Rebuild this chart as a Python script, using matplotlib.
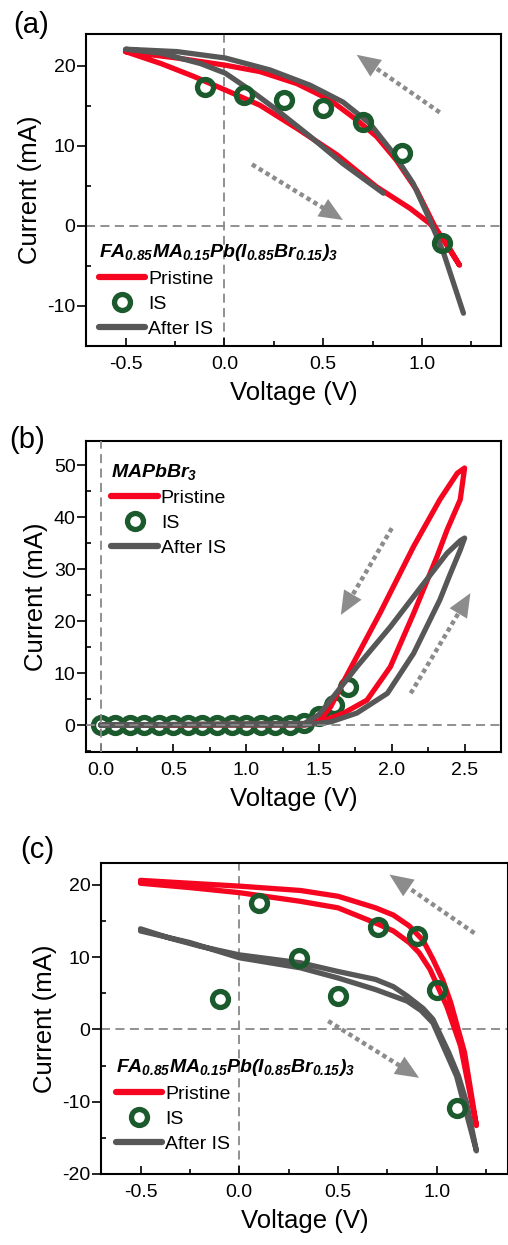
import numpy as np
import matplotlib.pyplot as plt
from matplotlib.lines import Line2D
from matplotlib.ticker import MultipleLocator

plt.rcParams['font.family'] = ['Liberation Sans', 'DejaVu Sans']
plt.rcParams['axes.unicode_minus'] = False
plt.rcParams['mathtext.fontset'] = 'custom'
plt.rcParams['mathtext.rm'] = 'Liberation Sans:bold:italic'
plt.rcParams['mathtext.it'] = 'Liberation Sans:bold:italic'
plt.rcParams['mathtext.bf'] = 'Liberation Sans:bold:italic'

RED = '#f5051f'
GRAY = '#575757'
GREEN = '#1a5a2d'
ARW = '#8c8c8c'

# (a) FA0.85MA0.15Pb(I0.85Br0.15)3, первая ячейка
a_pri_v = [-0.5, -0.32, -0.155, 0.005, 0.18, 0.367, 0.57, 0.77, 0.94, 1.04, 1.125, 1.19,
           1.066, 0.973, 0.87, 0.77, 0.67, 0.535, 0.367, 0.18, 0.005, -0.24, -0.5]
a_pri_i = [21.8, 20.3, 18.7, 17.0, 15.1, 12.2, 8.9, 4.9, 2.2, 0.3, -2.2, -4.9,
           -0.1, 4.5, 8.25, 11.2, 13.25, 15.75, 17.8, 19.3, 20.1, 21.0, 21.8]
a_aft_v = [1.21, 1.11, 1.04, 0.956, 0.855, 0.737, 0.6, 0.434, 0.232, 0.005, -0.24, -0.5,
           -0.32, -0.12, 0.005, 0.13, 0.266, 0.434, 0.6, 0.805]
a_aft_i = [-10.9, -3.4, 0.75, 5.3, 9.1, 12.8, 15.5, 17.6, 19.5, 21.0, 21.8, 22.1,
           21.6, 20.3, 19.1, 17.0, 14.5, 11.2, 7.8, 4.1]
a_is_v = [-0.1, 0.1, 0.3, 0.5, 0.7, 0.9, 1.1]
a_is_i = [17.4, 16.4, 15.75, 14.8, 13.0, 9.1, -2.1]

# (b) MAPbBr3
b_pri_v = [0.0, 1.4, 1.5, 1.67, 1.83, 1.99, 2.15, 2.31, 2.38, 2.47, 2.5,
           2.45, 2.33, 2.15, 1.92, 1.69, 1.58, 1.5, 1.4, 0.0]
b_pri_i = [0.0, 0.0, 0.5, 2.3, 4.8, 11.2, 21.5, 32.4, 37.6, 43.4, 49.5,
           48.5, 43.4, 34.4, 21.6, 9.5, 3.5, 0.8, 0.2, 0.0]
b_aft_v = [0.0, 1.4, 1.58, 1.76, 1.97, 2.15, 2.33, 2.4, 2.47, 2.5,
           2.47, 2.38, 2.22, 1.99, 1.76, 1.6, 1.5, 1.4, 0.0]
b_aft_i = [0.0, 0.0, 0.6, 2.3, 6.1, 13.8, 24.1, 29.0, 33.7, 36.0,
           35.5, 33.1, 27.3, 18.9, 11.2, 5.5, 2.0, 0.3, 0.0]
b_is_v = [0.0, 0.1, 0.2, 0.3, 0.4, 0.5, 0.6, 0.7, 0.8, 0.9, 1.0, 1.1, 1.2, 1.3, 1.4, 1.5, 1.6, 1.7]
b_is_i = [0, 0, 0, 0, 0, 0, 0, 0, 0, 0, 0, 0, 0, 0, 0.3, 1.7, 3.8, 7.4]

# (c) FA0.85MA0.15Pb(I0.85Br0.15)3, вторая ячейка
c_pri_v = [-0.5, -0.25, 0.0, 0.31, 0.5, 0.69, 0.78, 0.86, 0.93, 0.98, 1.03, 1.07, 1.14, 1.2,
           1.12, 1.05, 0.965, 0.91, 0.86, 0.78, 0.69, 0.5, 0.31, 0.0, -0.25, -0.5]
c_pri_i = [20.6, 20.2, 19.8, 19.2, 18.4, 16.8, 15.8, 14.3, 12.3, 9.7, 6.8, 3.7, -3.2, -13.3,
           -2.3, 3.2, 8.3, 10.6, 12.0, 13.6, 14.7, 16.8, 17.7, 18.9, 19.6, 20.2]
c_aft_v = [-0.5, -0.35, -0.2, 0.0, 0.31, 0.5, 0.69, 0.78, 0.85, 0.93, 0.98, 1.06, 1.11, 1.15, 1.2,
           1.1, 0.98, 0.92, 0.85, 0.69, 0.5, 0.31, 0.0, -0.25, -0.5]
c_aft_i = [13.9, 12.6, 11.5, 10.3, 9.2, 8.0, 6.9, 5.9, 4.6, 2.9, 1.4, -3.2, -6.5, -10.1, -16.8,
           -6.5, 0.9, 2.6, 3.9, 5.5, 7.1, 8.5, 9.9, 12.0, 13.6]
c_is_v = [-0.1, 0.1, 0.3, 0.5, 0.7, 0.9, 1.0, 1.1]
c_is_i = [4.2, 17.5, 9.9, 4.6, 14.2, 12.9, 5.5, -10.9]

FA_TITLE = r'$FA_{0.85}MA_{0.15}Pb(I_{0.85}Br_{0.15})_3$'


def style(ax, xlim, ylim, xstep, ystep):
    ax.set_xlim(xlim)
    ax.set_ylim(ylim)
    ax.xaxis.set_major_locator(MultipleLocator(xstep))
    ax.xaxis.set_minor_locator(MultipleLocator(xstep / 2))
    ax.yaxis.set_major_locator(MultipleLocator(ystep))
    ax.yaxis.set_minor_locator(MultipleLocator(ystep / 2))
    ax.tick_params(axis='x', which='major', direction='in', length=6, width=1.2, labelsize=14, pad=7)
    ax.tick_params(axis='x', which='minor', direction='in', length=3.5, width=1.2)
    ax.tick_params(axis='y', which='major', direction='out', length=6.5, width=1.2, labelsize=14, pad=1)
    ax.tick_params(axis='y', which='minor', direction='in', length=3.5, width=1.2)
    for s in ax.spines.values():
        s.set_linewidth(1.5)
    ax.set_xlabel('Voltage (V)', fontsize=18.5, labelpad=6)
    ax.set_ylabel('Current (mA)', fontsize=18.5, labelpad=4)


def arrow(ax, start, tip, head=17):
    p0 = ax.transData.transform(start)
    p1 = ax.transData.transform(tip)
    d = p1 - p0
    u = d / np.hypot(*d)
    axial = head * 0.92
    base = ax.transData.inverted().transform(p1 - u * axial * 100 / 72 * 0.95)
    ax.plot([start[0], base[0]], [start[1], base[1]], ls=(0, (1, 0.8)), lw=3.2,
            color=ARW, dash_capstyle='butt', zorder=2)
    ax.annotate('', xy=tip, xytext=(-u[0] * axial, -u[1] * axial), textcoords='offset points',
                arrowprops=dict(arrowstyle='-|>,head_length=1,head_width=0.43', mutation_scale=head,
                                color=ARW, lw=0, shrinkA=0, shrinkB=0), zorder=2)


def legend(ax, title, loc, anchor):
    h = [Line2D([], [], color=RED, lw=4.5, solid_capstyle='round'),
         Line2D([], [], ls='none', marker='o', ms=11.5, mfc='none', mec=GREEN, mew=3.8),
         Line2D([], [], color=GRAY, lw=4.5, solid_capstyle='round')]
    lg = ax.legend(h, ['Pristine', 'IS', 'After IS'], title=title, loc=loc, bbox_to_anchor=anchor,
                   frameon=False, fontsize=14, title_fontsize=14, alignment='left',
                   handlelength=2.4, handletextpad=0.15, labelspacing=0.38,
                   borderpad=0.2, borderaxespad=0.2)
    lg.set_zorder(6)


fig = plt.figure(figsize=(5.08, 12.45), dpi=100)
W, H = 508, 1245

# (a)
ax = fig.add_axes([86 / W, 1 - 346 / H, 415 / W, 312 / H])
style(ax, (-0.7, 1.4), (-15, 24), 0.5, 10)
ax.axhline(0, color='#888888', ls=(0, (5, 3)), lw=1.3, zorder=1)
ax.axvline(0, color='#888888', ls=(0, (5, 3)), lw=1.3, zorder=1)
ax.plot(a_pri_v, a_pri_i, color=RED, lw=3.8, solid_joinstyle='round', solid_capstyle='round', zorder=3)
ax.plot(a_aft_v, a_aft_i, color=GRAY, lw=3.8, solid_joinstyle='round', solid_capstyle='round', zorder=3)
ax.plot(a_is_v, a_is_i, ls='none', marker='o', ms=11.5, mfc='none', mec=GREEN, mew=3.8, zorder=4)
arrow(ax, (1.09, 14.2), (0.67, 21.4))
arrow(ax, (0.14, 7.7), (0.6, 0.75))
legend(ax, FA_TITLE, 'lower left', (0.012, 0.0))

# (b)
ax = fig.add_axes([86 / W, 1 - 752 / H, 415 / W, 311 / H])
style(ax, (-0.1, 2.75), (-5.2, 54.7), 0.5, 10)
ax.plot(b_is_v, b_is_i, ls='none', marker='o', ms=11.5, mfc='none', mec=GREEN, mew=3.8, zorder=2)
ax.plot(b_pri_v, b_pri_i, color=RED, lw=3.8, solid_joinstyle='round', solid_capstyle='round', zorder=3)
ax.plot(b_aft_v, b_aft_i, color=GRAY, lw=3.8, solid_joinstyle='round', solid_capstyle='round', zorder=3)
ax.axhline(0, color='#888888', ls=(0, (5, 3)), lw=1.3, zorder=5)
ax.axvline(0, color='#888888', ls=(0, (5, 3)), lw=1.3, zorder=5)
arrow(ax, (2.0, 37.9), (1.65, 21.2))
arrow(ax, (2.13, 6.1), (2.54, 25.4))
legend(ax, r'$MAPbBr_3$', 'upper left', (0.042, 0.958))

# (c)
ax = fig.add_axes([101 / W, 1 - 1174 / H, 407 / W, 311 / H])
style(ax, (-0.7, 1.36), (-20, 23), 0.5, 10)
ax.axhline(0, color='#888888', ls=(0, (5, 3)), lw=1.3, zorder=1)
ax.axvline(0, color='#888888', ls=(0, (5, 3)), lw=1.3, zorder=1)
ax.plot(c_pri_v, c_pri_i, color=RED, lw=3.8, solid_joinstyle='round', solid_capstyle='round', zorder=3)
ax.plot(c_aft_v, c_aft_i, color=GRAY, lw=3.8, solid_joinstyle='round', solid_capstyle='round', zorder=3)
ax.plot(c_is_v, c_is_i, ls='none', marker='o', ms=11.5, mfc='none', mec=GREEN, mew=3.8, zorder=4)
arrow(ax, (1.19, 13.3), (0.76, 21.4))
arrow(ax, (0.45, 1.15), (0.91, -6.7))
legend(ax, FA_TITLE, 'lower left', (0.017, 0.042))

fig.text(13 / W, 1 - 25 / H, '(a)', fontsize=21, va='center', ha='left')
fig.text(9 / W, 1 - 440 / H, '(b)', fontsize=21, va='center', ha='left')
fig.text(20 / W, 1 - 850 / H, '(c)', fontsize=21, va='center', ha='left')

fig.savefig('out.png', dpi=100)
